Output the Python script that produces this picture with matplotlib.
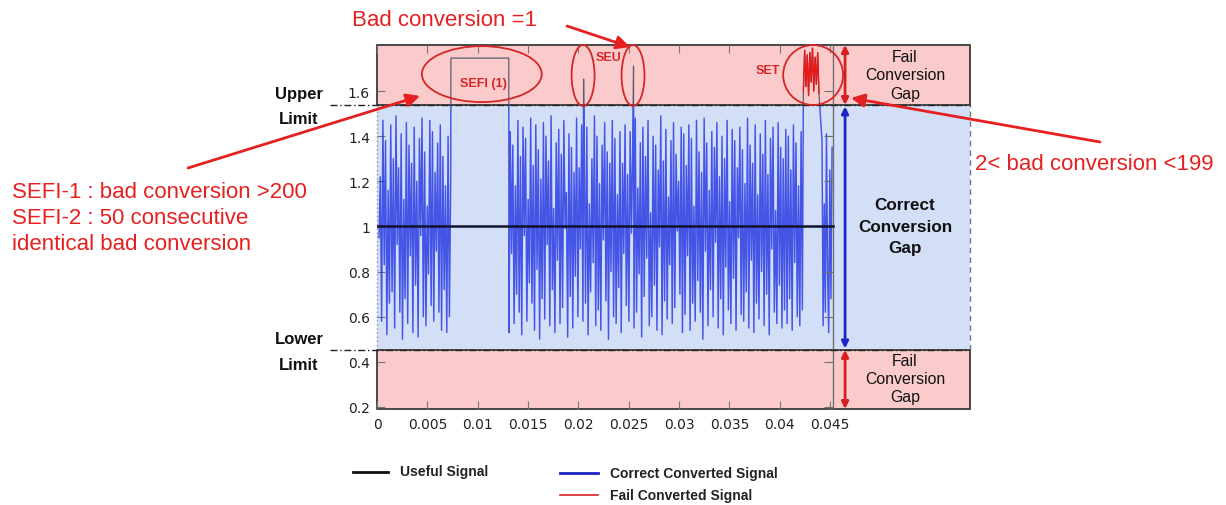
import numpy as np
import matplotlib
matplotlib.use("Agg")
import matplotlib.pyplot as plt
from matplotlib.patches import Rectangle, Ellipse, FancyArrowPatch
from matplotlib.lines import Line2D

# ---------------- data ----------------
seg1_vals = [0.95, 1.22, 0.58, 1.47, 0.83, 1.38, 0.52, 1.16, 0.66, 1.45, 0.71, 1.30, 0.55, 1.49, 0.92, 1.26, 0.62, 1.41, 0.50, 1.12,
             0.68, 1.46, 0.57, 1.36, 0.87, 1.28, 0.53, 1.44, 0.74, 1.20, 0.51, 1.39, 0.96, 1.48, 0.60, 1.33, 0.56, 1.09, 0.79, 1.47,
             0.65, 1.42, 0.58, 1.24, 0.89, 1.37, 0.62, 1.45, 0.54, 1.31, 0.72, 1.18, 0.53, 1.40, 0.60, 1.20]
seg1_span = (0.0002, 0.00732)

sefi_x = [0.00734, 0.01309]
sefi_y = [1.746, 1.746]

seg2_vals = [0.53, 1.42, 0.88, 1.36, 0.57, 1.18, 0.70, 1.47, 0.62, 1.31, 0.52, 1.44, 0.96, 1.39, 0.58, 1.12, 0.75, 1.48, 0.66, 1.27,
             0.54, 1.45, 0.81, 1.34, 0.50, 1.21, 0.68, 1.46, 0.59, 1.40, 0.92, 1.29, 0.56, 1.49, 0.72, 1.08, 0.53, 1.37, 0.85, 1.43,
             0.57, 1.32, 0.64, 1.47, 0.99, 1.15, 0.51, 1.41, 0.69, 1.35, 0.55, 1.24, 0.78, 1.48, 0.60, 1.26, 0.90, 1.45, 0.58, 1.38,
             0.66, 1.44, 0.52, 1.10, 0.71, 1.30, 0.84, 1.49, 0.56, 1.40, 0.63, 1.19, 0.54, 1.36, 0.94, 1.46, 0.67, 1.33, 0.50, 1.28,
             0.80, 1.47, 0.60, 1.39, 0.57, 1.14, 0.73, 1.42, 0.53, 1.28, 0.88, 1.45, 0.65, 1.23, 0.58, 1.42, 0.97, 1.34, 0.55, 1.48,
             0.62, 1.17, 0.79, 1.37, 0.51, 1.44, 0.69, 1.31, 0.86, 1.47, 0.56, 1.06, 0.60, 1.40, 0.74, 1.36, 0.54, 1.25, 0.91, 1.49,
             0.52, 1.29, 0.67, 1.43, 0.59, 1.13, 0.83, 1.38, 0.57, 1.46, 0.64, 1.32, 0.98, 1.20, 0.70, 1.44, 0.53, 1.41, 0.61, 1.27,
             0.87, 1.45, 0.54, 1.39, 0.66, 1.09, 0.58, 1.47, 0.76, 1.33, 0.62, 1.24, 0.50, 1.48, 0.89, 1.37, 0.56, 1.16, 0.72, 1.42,
             0.60, 1.35, 0.93, 1.46, 0.55, 1.22, 0.68, 1.40, 0.52, 1.30, 0.82, 1.47, 0.63, 1.11, 0.57, 1.43, 0.77, 1.38, 0.54, 1.26,
             0.95, 1.44, 0.61, 1.34, 0.58, 1.19, 0.71, 1.48, 0.55, 1.36, 0.85, 1.28, 0.53, 1.45, 0.66, 1.14, 0.59, 1.41, 0.80, 1.32,
             0.56, 1.47, 0.70, 1.23, 0.52, 1.39, 0.90, 1.44, 0.62, 1.07, 0.57, 1.46, 0.74, 1.35, 0.55, 1.30, 0.63, 1.43, 0.57, 1.40,
             0.68, 1.25, 0.54, 1.45, 0.84, 1.37, 0.60, 1.18, 0.56, 1.42, 0.63]
seg2_span = (0.01311, 0.04225)

seu_x = [0.02052, 0.02548]
seu_y = [1.653, 1.711]

set_vals = [1.60, 1.78, 1.62, 1.76, 1.58, 1.77, 1.64, 1.79, 1.60, 1.75, 1.63, 1.77, 1.59]
set_span = (0.04235, 0.0439)

seg3_vals = [1.38, 0.56, 1.10, 0.62, 1.41, 0.80, 0.53, 1.25, 0.68, 1.35]
seg3_span = (0.0442, 0.0452)

useful_x = [0.0, 0.0453]
useful_y = [1.0, 1.0]

upper_limit = 1.538
lower_limit = 0.453
y_min, y_max = 0.191, 1.804
x_max = 0.0589
inner_right = 0.0453

x_ticks = [0, 0.005, 0.01, 0.015, 0.02, 0.025, 0.03, 0.035, 0.04, 0.045]
x_tick_labels = ['0', '0.005', '0.01', '0.015', '0.02', '0.025', '0.03', '0.035', '0.04', '0.045']
y_ticks = [0.2, 0.4, 0.6, 0.8, 1.0, 1.2, 1.4, 1.6]
y_tick_labels = ['0.2', '0.4', '0.6', '0.8', '1', '1.2', '1.4', '1.6']

# ---------------- figure ----------------
W, H = 1226, 506
fig = plt.figure(figsize=(W / 100, H / 100), dpi=100)
fig.patch.set_facecolor('white')


def fp(x, y):
    return (x / W, 1 - y / H)


ax = fig.add_axes([377 / W, 1 - 410 / H, 593 / W, 364 / H])
ax.set_xlim(0, x_max)
ax.set_ylim(y_min, y_max)
for s in ax.spines.values():
    s.set_visible(False)

PINK = '#fbcaca'
BLUE_BG = '#d3dff7'
RED = '#e62020'
EDGE = '#3a3a3a'

ax.add_patch(Rectangle((0, lower_limit), x_max, upper_limit - lower_limit,
                       facecolor=BLUE_BG, edgecolor='none', zorder=0.3))
ax.add_patch(Rectangle((0, upper_limit), x_max, y_max - upper_limit,
                       facecolor=PINK, edgecolor=EDGE, lw=1.3, zorder=0.4, clip_on=False))
ax.add_patch(Rectangle((0, y_min), x_max, lower_limit - y_min,
                       facecolor=PINK, edgecolor=EDGE, lw=1.3, zorder=0.4, clip_on=False))
ax.plot([x_max, x_max], [lower_limit, upper_limit], color='#777777', lw=1.0,
        ls=(0, (4, 3)), zorder=0.5, clip_on=False)
ax.plot([0, 0], [lower_limit, upper_limit], color='#8890a8', lw=1.0,
        ls=(0, (1, 2)), zorder=0.5, clip_on=False)

# limit lines (dash-dot), extending left of the axes
ytr = ax.get_yaxis_transform()
for lim in (upper_limit, lower_limit):
    ax.plot([-0.079, 1.0], [lim, lim], transform=ytr, color='#222222', lw=1.0,
            ls=(0, (5, 2, 1, 2)), clip_on=False, zorder=3)

# ---------------- signal ----------------
x1 = np.linspace(seg1_span[0], seg1_span[1], len(seg1_vals))
x2 = np.linspace(seg2_span[0], seg2_span[1], len(seg2_vals))
x2 = np.concatenate([x2, seu_x])
y2 = np.concatenate([seg2_vals, seu_y])
order = np.argsort(x2)
x2, y2 = x2[order], y2[order]
xs = np.linspace(set_span[0], set_span[1], len(set_vals))
x3 = np.linspace(seg3_span[0], seg3_span[1], len(seg3_vals))

sig_x = np.concatenate([x1, sefi_x, x2, xs, x3])
sig_y = np.concatenate([seg1_vals, sefi_y, y2, set_vals, seg3_vals])

blue_line, = ax.plot(sig_x, sig_y, color='#1426e0', lw=1.05, alpha=0.75, zorder=2)
blue_line.set_clip_path(Rectangle((0, y_min), x_max, upper_limit - y_min, transform=ax.transData))
gray_line, = ax.plot(sig_x, sig_y, color='#5a6078', lw=0.9, zorder=2)
gray_line.set_clip_path(Rectangle((0, upper_limit), x_max, y_max - upper_limit, transform=ax.transData))
ax.plot(xs, set_vals, color='#e81818', lw=1.0, zorder=2.2)

ax.plot(useful_x, useful_y, color='#10122e', lw=1.8, zorder=3)

# inner plot right edge with inward ticks
ax.plot([inner_right, inner_right], [y_min, y_max], color='#707070', lw=1.0, zorder=2.5)
ax.hlines(y_ticks, inner_right - 0.0009, inner_right, color='#707070', lw=0.8, zorder=2.5)

# ---------------- ticks ----------------
ax.set_xticks(x_ticks)
ax.set_xticklabels(x_tick_labels)
ax.set_yticks(y_ticks)
ax.set_yticklabels(y_tick_labels)
ax.tick_params(axis='both', direction='in', length=6, width=0.8, color='#777777',
               labelsize=10, labelcolor='#222222', top=True, right=False)
ax.tick_params(axis='x', pad=6)
ax.tick_params(axis='y', pad=5)

# ---------------- ellipses ----------------
ell_kw = dict(fill=False, edgecolor='#d42626', lw=1.3, zorder=4, clip_on=False)
ax.add_patch(Ellipse((0.01041, 1.675), 0.0119, 0.248, **ell_kw))
ax.add_patch(Ellipse((0.02047, 1.669), 0.00228, 0.270, **ell_kw))
ax.add_patch(Ellipse((0.02543, 1.669), 0.00228, 0.270, **ell_kw))
ax.add_patch(Ellipse((0.04332, 1.671), 0.00595, 0.266, **ell_kw))

lab_kw = dict(color='#d42626', fontsize=9, fontweight='bold', family='Liberation Sans',
              ha='center', va='center', transform=fig.transFigure)
fig.text(*fp(483, 84), 'SEFI (1)', **lab_kw)
fig.text(*fp(609, 58), 'SEU', **lab_kw)
fig.text(*fp(768, 71), 'SET', **lab_kw)

# ---------------- double arrows ----------------
xa = 0.04649
ax.annotate('', xy=(xa, y_max), xytext=(xa, upper_limit),
            arrowprops=dict(arrowstyle='<|-|>', color='#d42020', lw=2, mutation_scale=10,
                            shrinkA=0, shrinkB=0), annotation_clip=False, zorder=5)
ax.annotate('', xy=(xa, upper_limit), xytext=(xa, lower_limit),
            arrowprops=dict(arrowstyle='<|-|>', color='#1c25c8', lw=2, mutation_scale=10,
                            shrinkA=1, shrinkB=1), annotation_clip=False, zorder=5)
ax.annotate('', xy=(xa, lower_limit), xytext=(xa, y_min),
            arrowprops=dict(arrowstyle='<|-|>', color='#d42020', lw=2, mutation_scale=10,
                            shrinkA=0, shrinkB=0), annotation_clip=False, zorder=5)

# ---------------- gap texts ----------------
txt_kw = dict(family='Liberation Sans', ha='center', va='center', color='#111111')
for yy, t in zip([58, 76, 94], ['Fail', 'Conversion', 'Gap']):
    fig.text(*fp(905, yy), t, fontsize=11.4, **txt_kw)
for yy, t in zip([362, 380, 398], ['Fail', 'Conversion', 'Gap']):
    fig.text(*fp(905, yy), t, fontsize=11.4, **txt_kw)
for yy, t in zip([206, 227, 248], ['Correct', 'Conversion', 'Gap']):
    fig.text(*fp(905, yy), t, fontsize=12.3, fontweight='bold', **txt_kw)

for (xx, yy), t in zip([(299, 95), (299, 120), (299, 340), (299, 365)],
                       ['Upper', 'Limit', 'Lower', 'Limit']):
    fig.text(*fp(xx, yy), t, fontsize=12, fontweight='bold', **txt_kw)

# ---------------- red annotations ----------------
ann_kw = dict(family='Liberation Sans', color=RED, fontsize=16, va='center', ha='left')
fig.text(*fp(352, 20), 'Bad conversion =1', **ann_kw)
fig.text(*fp(12, 193), 'SEFI-1 : bad conversion >200', **ann_kw)
fig.text(*fp(12, 219), 'SEFI-2 : 50 consecutive', **ann_kw)
fig.text(*fp(12, 245), 'identical bad conversion', **ann_kw)
fig.text(*fp(975, 165), '2< bad conversion <199', **ann_kw)

for a, b in [((567, 27), (630, 48)), ((188, 169), (420, 97)), ((1100, 143), (851, 99))]:
    fig.add_artist(FancyArrowPatch(fp(*a), fp(*b), transform=fig.transFigure,
                                   arrowstyle='-|>', mutation_scale=20, lw=2,
                                   color=RED, shrinkA=0, shrinkB=0, zorder=6))

# ---------------- legend ----------------
fig.add_artist(Line2D([353 / W, 388 / W], [1 - 473 / H] * 2, transform=fig.transFigure,
                      color='#111111', lw=2))
fig.add_artist(Line2D([560 / W, 598 / W], [1 - 474 / H] * 2, transform=fig.transFigure,
                      color='#1a22c0', lw=2))
fig.add_artist(Line2D([560 / W, 598 / W], [1 - 496 / H] * 2, transform=fig.transFigure,
                      color='#e02020', lw=1.2))
leg_kw = dict(family='Liberation Sans', fontsize=10, fontweight='bold', color='#222222',
              va='center', ha='left')
fig.text(*fp(400, 472), 'Useful Signal', **leg_kw)
fig.text(*fp(610, 474), 'Correct Converted Signal', **leg_kw)
fig.text(*fp(610, 496), 'Fail Converted Signal', **leg_kw)

fig.savefig('out.png', dpi=100, facecolor='white')
